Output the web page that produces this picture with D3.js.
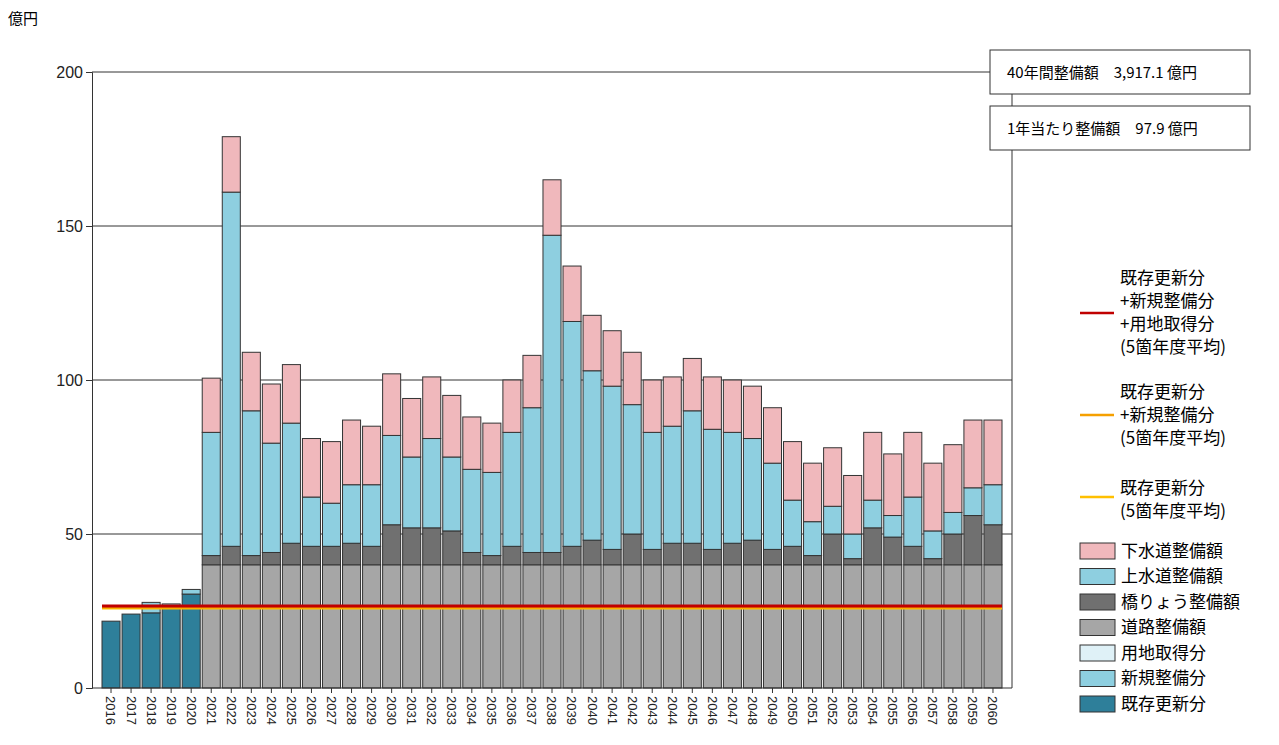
<!DOCTYPE html>
<html><head><meta charset="utf-8">
<script src="https://cdn.jsdelivr.net/npm/d3@7"></script>
<style>body{margin:0;background:#fff;font-family:"Noto Sans CJK JP",sans-serif;}</style>
</head><body>
<script>
var years = d3.range(2016, 2061).map(String);
// 2016-2020 actuals
var existing = [21.7, 24, 24.4, 26.6, 30.5];
var newWork  = [0, 0, 3.4, 0.7, 1.5];
var land     = [0, 0, 0, 0, 0];
// 2021-2060 projection
var road   = Array(40).fill(40);
var bridge = [43,46,43,44,47,46,46,47,46,53,52,52,51,44,43,46,44,44,46,48,45,50,45,47,47,45,47,48,45,46,43,50,42,52,49,46,42,50,56,53];
var water  = [83,161,90,79.5,86,62,60,66,66,82,75,81,75,71,70,83,91,147,119,103,98,92,83,85,90,84,83,81,73,61,54,59,50,61,56,62,51,57,65,66];
var total  = [100.6,179,109,98.7,105,81,80,87,85,102,94,101,95,88,86,100,108,165,137,121,116,109,100,101,107,101,100,98,91,80,73,78,69,83,76,83,73,79,87,87];
var avgRed = 26.6, avgOrange = 26.3, avgYellow = 26.0;
var yTicks = [0, 50, 100, 150, 200];

var svg = d3.select('body').append('svg').attr('width', 1279).attr('height', 745);
var x = d3.scaleBand().domain(years).range([102, 1002]).paddingInner(0.1).paddingOuter(0);
var y = d3.scaleLinear().domain([0, 200]).range([688, 72]);

// grid
svg.selectAll('.grid').data(yTicks.slice(1)).enter().append('line')
  .attr('x1', 92).attr('x2', 1012)
  .attr('y1', function(d){ return y(d); }).attr('y2', function(d){ return y(d); })
  .attr('stroke', '#333').attr('stroke-width', 1);
svg.append('line').attr('x1', 1012).attr('x2', 1012).attr('y1', 72).attr('y2', 688).attr('stroke', '#333');

// build segments
var segs = [];
years.forEach(function(yr, i){
  var parts;
  if (i < 5) {
    parts = [[existing[i], '#2e7f9a'], [newWork[i], '#8ecfe0'], [land[i], '#dff1f7']];
  } else {
    var j = i - 5;
    parts = [[road[j], '#a6a6a6'], [bridge[j] - road[j], '#707070'], [water[j] - bridge[j], '#8ecfe0'], [total[j] - water[j], '#f0b8bc']];
  }
  var base = 0;
  parts.forEach(function(p){
    if (p[0] > 0) segs.push({yr: yr, y0: base, y1: base + p[0], c: p[1]});
    base += p[0];
  });
});
svg.selectAll('.seg').data(segs).enter().append('rect')
  .attr('x', function(d){ return x(d.yr); })
  .attr('width', x.bandwidth())
  .attr('y', function(d){ return y(d.y1); })
  .attr('height', function(d){ return y(d.y0) - y(d.y1); })
  .attr('fill', function(d){ return d.c; })
  .attr('stroke', '#333').attr('stroke-width', 1);

// average lines
[[avgYellow, '#ffc000'], [avgOrange, '#f5a000'], [avgRed, '#c00000']].forEach(function(a){
  svg.append('line').attr('x1', x('2016')).attr('x2', x('2060') + x.bandwidth())
    .attr('y1', y(a[0])).attr('y2', y(a[0])).attr('stroke', a[1]).attr('stroke-width', 3);
});

// axes
var ya = svg.append('g').attr('transform', 'translate(92,0)')
  .call(d3.axisLeft(y).tickValues(yTicks).tickSize(6));
ya.selectAll('text').attr('font-size', 16).attr('fill', '#222');
ya.selectAll('path,line').attr('stroke', '#333');
var xa = svg.append('g').attr('transform', 'translate(0,688)')
  .call(d3.axisBottom(x).tickSize(5));
xa.select('.domain').attr('d', 'M92,0H1012');
xa.selectAll('path,line').attr('stroke', '#333');
xa.selectAll('text').attr('font-size', 13).attr('fill', '#222')
  .attr('transform', 'rotate(90)').attr('text-anchor', 'start')
  .attr('x', 8).attr('y', 0).attr('dy', '0.35em');
svg.append('text').attr('x', 8).attr('y', 24).attr('font-size', 15).text('億円');

// info boxes
[['40年間整備額　3,917.1 億円', 50], ['1年当たり整備額　97.9 億円', 106]].forEach(function(b){
  svg.append('rect').attr('x', 990).attr('y', b[1]).attr('width', 260).attr('height', 44)
    .attr('fill', '#fff').attr('stroke', '#333');
  svg.append('text').attr('x', 1007).attr('y', b[1] + 28).attr('font-size', 15).text(b[0]);
});

// legend lines
var lineLeg = [
  ['#c00000', 313, ['既存更新分', '+新規整備分', '+用地取得分', '(5箇年度平均)'], 278],
  ['#f5a000', 415, ['既存更新分', '+新規整備分', '(5箇年度平均)'], 392],
  ['#ffc000', 497, ['既存更新分', '(5箇年度平均)'], 488]
];
lineLeg.forEach(function(l){
  svg.append('line').attr('x1', 1080).attr('x2', 1114).attr('y1', l[1]).attr('y2', l[1])
    .attr('stroke', l[0]).attr('stroke-width', 2.5);
  l[2].forEach(function(t, k){
    svg.append('text').attr('x', 1120).attr('y', l[3] + k * 23).attr('dy', '0.35em')
      .attr('font-size', 17).text(t);
  });
});
var boxLeg = [['下水道整備額', '#f0b8bc'], ['上水道整備額', '#8ecfe0'], ['橋りょう整備額', '#707070'],
  ['道路整備額', '#a6a6a6'], ['用地取得分', '#dff1f7'], ['新規整備分', '#8ecfe0'], ['既存更新分', '#2e7f9a']];
boxLeg.forEach(function(b, k){
  var yy = 551 + k * 25.5;
  svg.append('rect').attr('x', 1080).attr('y', yy - 8).attr('width', 35).attr('height', 16)
    .attr('fill', b[1]).attr('stroke', '#333');
  svg.append('text').attr('x', 1121).attr('y', yy).attr('dy', '0.35em').attr('font-size', 17).text(b[0]);
});
</script>
</body></html>
